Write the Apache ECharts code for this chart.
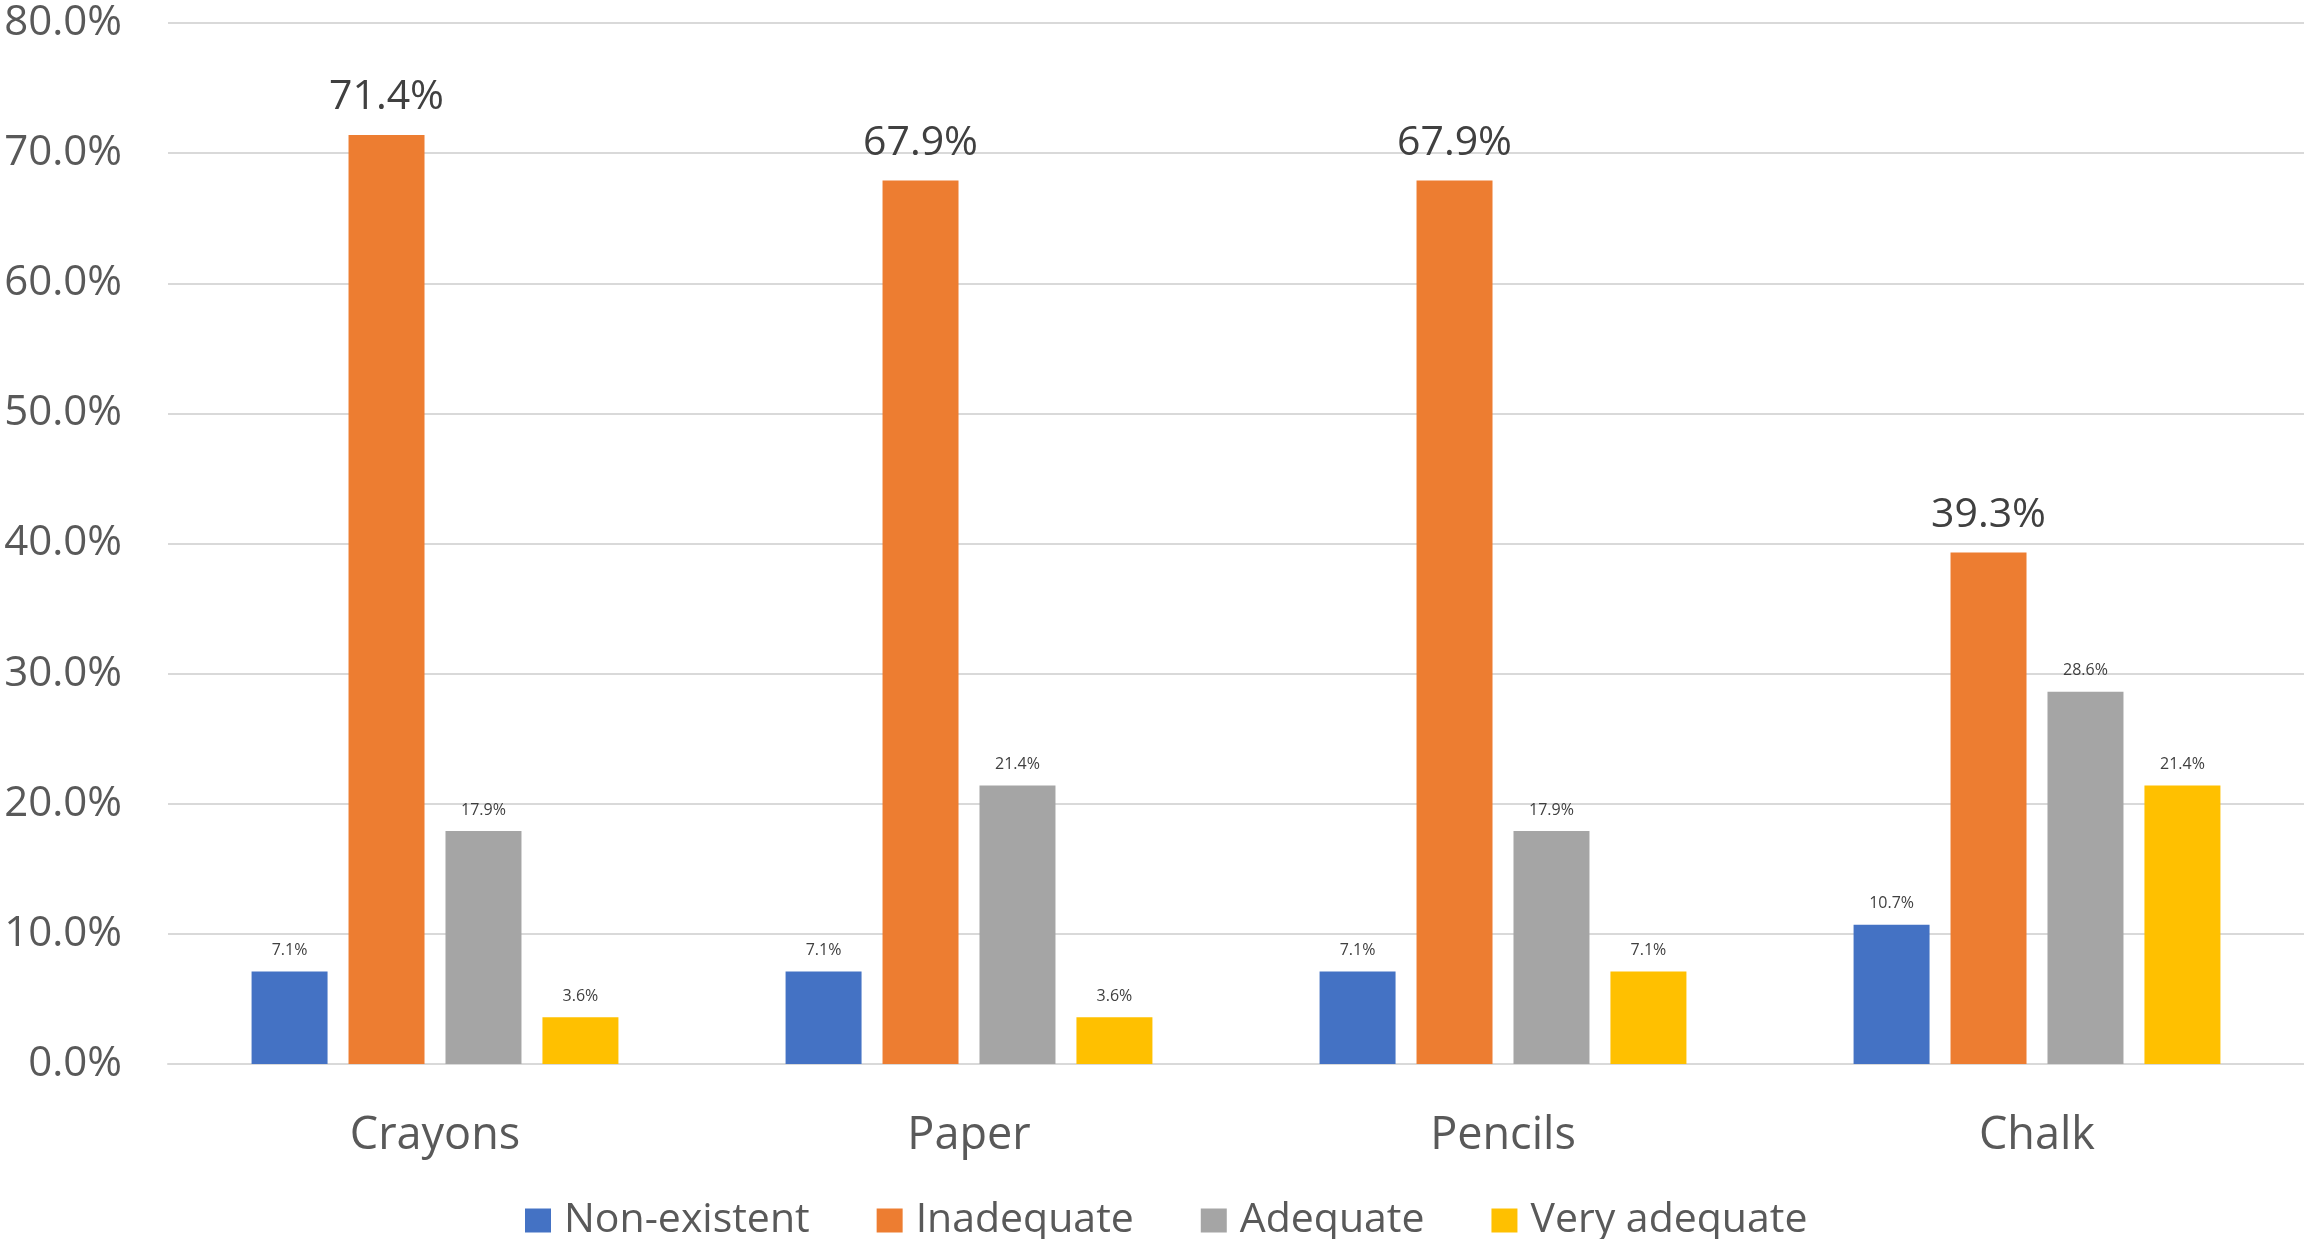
<!DOCTYPE html>
<html>
<head>
<meta charset="utf-8">
<title>Materials availability</title>
<script src="https://cdn.jsdelivr.net/npm/echarts@6/dist/echarts.min.js"></script>
<style>
  html, body { margin: 0; padding: 0; background: #ffffff; }
  #chart { width: 2304px; height: 1239px; }
</style>
</head>
<body>
<div id="chart"></div>
<script>
// Materials surveyed
const categories = ['Crayons', 'Paper', 'Pencils', 'Chalk'];

// Share of responses per rating (%)
const nonExistent  = [7.1, 7.1, 7.1, 10.7];
const inadequate   = [71.4, 67.9, 67.9, 39.3];
const adequate     = [17.9, 21.4, 17.9, 28.6];
const veryAdequate = [3.6, 3.6, 7.1, 21.4];

const seriesNames = ['Non-existent', 'Inadequate', 'Adequate', 'Very adequate'];
const seriesColors = ['#4472C4', '#ED7D31', '#A5A5A5', '#FFC000'];

const FONT = '"Open Sans", "Noto Sans", sans-serif';
const fmt = v => Number(v).toFixed(1) + '%';

function barSeries(name, data, color, big) {
  return {
    name: name,
    type: 'bar',
    data: data,
    barGap: '27.6%',
    barCategoryGap: '31.3%',
    itemStyle: { color: color },
    label: {
      show: true,
      position: 'top',
      distance: big ? 17 : 13,
      color: '#404040',
      fontFamily: FONT,
      fontSize: big ? 41 : 16,
      formatter: p => fmt(p.value)
    }
  };
}

const chart = echarts.init(document.getElementById('chart'), null, { renderer: 'canvas' });

chart.setOption({
  backgroundColor: '#ffffff',
  animation: false,
  color: seriesColors,
  textStyle: { fontFamily: FONT },
  grid: { left: 168, right: 0, top: 23, bottom: 175, containLabel: false },
  legend: {
    data: seriesNames,
    top: 1195,
    left: 520,
    itemWidth: 26,
    itemHeight: 24,
    itemGap: 67,
    icon: 'rect',
    textStyle: { color: '#595959', fontSize: 41, fontFamily: FONT, padding: [0, 0, 0, 8] }
  },
  xAxis: {
    type: 'category',
    data: categories,
    axisLine: { show: true, lineStyle: { color: '#D9D9D9', width: 2 } },
    axisTick: { show: false },
    axisLabel: { color: '#595959', fontSize: 45, fontFamily: FONT, margin: 50 }
  },
  yAxis: {
    type: 'value',
    min: 0,
    max: 80,
    interval: 10,
    axisLine: { show: false },
    axisTick: { show: false },
    splitLine: { lineStyle: { color: '#D9D9D9', width: 2 } },
    axisLabel: { color: '#595959', fontSize: 42, fontFamily: FONT, margin: 46, formatter: v => fmt(v) }
  },
  series: [
    barSeries(seriesNames[0], nonExistent, seriesColors[0], false),
    barSeries(seriesNames[1], inadequate, seriesColors[1], true),
    barSeries(seriesNames[2], adequate, seriesColors[2], false),
    barSeries(seriesNames[3], veryAdequate, seriesColors[3], false)
  ]
});
</script>
</body>
</html>
